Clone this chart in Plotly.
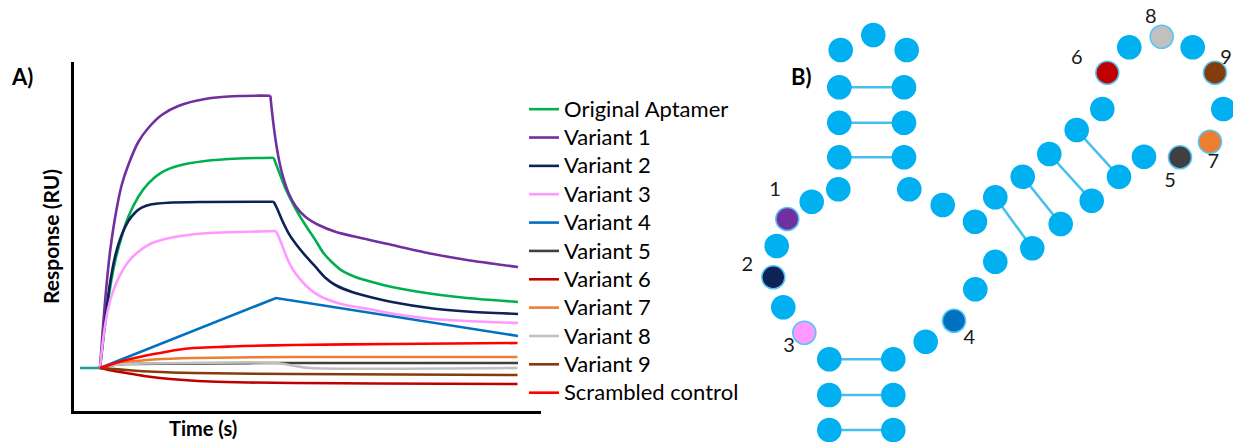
import plotly.graph_objects as go

W, H = 1233, 442

# ---------------- Panel A: SPR sensorgram data (time in s, response in RU) ----------------
SERIES_NAMES = ["Original Aptamer", "Variant 1", "Variant 2", "Variant 3", "Variant 4",
                "Variant 5", "Variant 6", "Variant 7", "Variant 8", "Variant 9",
                "Scrambled control"]
SERIES_COLORS = ["#00b050", "#7030a0", "#0d2257", "#ff99ff", "#0070c0",
                 "#404040", "#c00000", "#ed7d31", "#c0c0c0", "#843c0c", "#ff0000"]

BASELINE_T = [12, 52]
BASELINE_RU = [0, 0]

original_t = [52, 58.7, 65.3, 72, 82, 95.3, 108.7, 128.7, 148.7, 175.3, 208.7, 262, 330, 399.3,
              409.3, 422.7, 442.7, 462.7, 482.7, 499.3, 516, 536, 562.7, 596, 636, 718, 786, 888]
original_ru = [0, 29.7, 56.3, 79.7, 106.3, 131.3, 151.3, 171.3, 184.7, 195.7, 202.3, 207, 209.5, 210.3,
               197, 179.7, 159.7, 143, 128, 114.7, 105.7, 97.3, 91, 86, 81, 74, 70, 66]

v1_t = [52, 62, 72, 82, 95.4, 108.6, 128.6, 148.6, 175.4, 208.6, 262, 330, 392.7,
        396, 400, 404.7, 410.7, 418, 429.3, 442.7, 462.7, 489.3, 522.7, 576, 636, 718, 786, 888]
v1_ru = [0, 66, 116, 150, 183, 203, 226, 240, 253, 262, 269, 272, 272.3,
         256.3, 239.7, 223, 206.3, 191.3, 174.7, 162.3, 151.3, 143, 136.3, 129.7, 123, 114, 108, 101]

v2_t = [52, 58.7, 65.3, 72, 82, 95.3, 108.7, 122, 135.3, 155.3, 188.7, 262, 399.3,
        406, 416, 429.3, 442.7, 462.7, 482.7, 502.7, 522.7, 556, 596, 636, 718, 786, 888]
v2_ru = [0, 31.3, 59.7, 84.7, 111.3, 133, 147, 155.3, 160.3, 163.7, 165.3, 166, 166.3,
         159.7, 148, 134.7, 124.7, 112.3, 101.3, 90.3, 83, 76, 70.5, 66, 59.5, 56.5, 54]

v3_t = [52, 56.7, 62, 68.7, 76.7, 88.7, 108.7, 128.7, 155.3, 188.7, 262, 330, 404,
        409.3, 416, 429.3, 442.7, 462.7, 482.7, 509.3, 542.7, 589.3, 636, 718, 786, 888]
v3_ru = [0, 22.3, 42.3, 60.3, 74.7, 89.7, 106.3, 116.3, 124.7, 129.7, 134.7, 136, 137,
         131.3, 123, 106.3, 94.7, 83, 74.7, 68, 63, 59, 54.5, 49, 47, 45]

v4_t = [52, 404, 888]
v4_ru = [0, 70, 32]

v5_t = [52, 80, 105, 405, 888]
v5_ru = [0, 3, 4, 5, 5]

v6_t = [52, 80, 105, 140, 172, 220, 272, 350, 439, 600, 887]
v6_ru = [0, -3, -5, -8, -10, -12, -13.5, -14.5, -15, -15.5, -16]

v7_t = [52, 80, 105, 160, 239, 439, 887]
v7_ru = [0, 4, 6, 8.5, 10, 11, 11]

v8_t = [52, 80, 105, 405, 425, 445, 472, 887]
v8_ru = [0, 3, 4, 5, 3.5, 1.8, 0, 0]

v9_t = [52, 80, 105, 160, 239, 439, 887]
v9_ru = [0, -1, -2, -3.8, -5, -6, -7]

scr_t = [52, 80, 105, 140, 172, 205, 239, 290, 339, 439, 639, 887]
scr_ru = [0, 4.5, 8, 12, 15, 18, 20, 21, 22, 23, 24, 25]

SERIES_T = [original_t, v1_t, v2_t, v3_t, v4_t, v5_t, v6_t, v7_t, v8_t, v9_t, scr_t]
SERIES_RU = [original_ru, v1_ru, v2_ru, v3_ru, v4_ru, v5_ru, v6_ru, v7_ru, v8_ru, v9_ru, scr_ru]
# index of the end-of-injection point (sharp corner) in each series; None = no corner
INJECTION_END = [13, 12, 12, 12, 1, None, None, None, None, None, None]

# ---------------- Panel B: aptamer secondary structure (diagram coordinates) ----------------
NT_X = [829.3, 829.3, 829.3, 804.3, 783.3, 773.3, 776.7, 787.3, 811.7, 838.3,
        839.3, 839.3, 839.3, 840.7, 873.3, 906.7, 904.0, 904.0, 904.0, 909.3,
        942.7, 975.0, 995.3, 1022.7, 1049.3, 1076.7, 1102.3, 1107.3, 1129.3, 1161.7,
        1192.7, 1215.0, 1223.3, 1210.0, 1180.0, 1144.0, 1119.0, 1091.7, 1060.7, 1032.3,
        995.3, 975.3, 954.0, 925.7, 893.3, 893.3, 893.3]
NT_Y = [430.0, 395.0, 359.3, 332.7, 307.3, 277.3, 246.0, 219.0, 201.7, 189.3,
        157.3, 122.7, 87.3, 50.0, 35.0, 50.0, 87.3, 122.7, 157.3, 189.3,
        205.0, 221.7, 197.3, 176.7, 154.0, 130.0, 109.0, 72.7, 47.3, 36.7,
        47.3, 72.7, 109.0, 141.7, 157.3, 156.7, 176.7, 200.7, 224.0, 248.3,
        261.7, 289.3, 320.7, 341.7, 359.3, 395.0, 430.0]
# base pairs (index pairs into NT lists)
PAIRS = [(0, 46), (1, 45), (2, 44), (10, 18), (11, 17), (12, 16),
         (22, 39), (23, 38), (24, 37), (25, 36)]
# modified positions: label -> nucleotide index
MOD_LABELS = ["1", "2", "3", "4", "5", "6", "7", "8", "9"]
MOD_INDEX = [7, 5, 3, 42, 34, 27, 33, 29, 31]
MOD_LABEL_X = [775.0, 747.3, 789.0, 969.3, 1170.0, 1076.7, 1213.3, 1150.7, 1226.0]
MOD_LABEL_Y = [191.0, 266.0, 347.0, 339.0, 182.0, 59.0, 163.0, 18.0, 59.0]

NT_COLOR = "#00b0f0"
PAIR_COLOR = "#45c0ee"

# ---------------- layout helpers ----------------
AX_LEFT, AX_RIGHT, AX_TOP, AX_BOTTOM = 74, 541, 62, 411
FONT = "Lato"


def px(x):
    return x / W


def py(y):
    return 1 - y / H


fig = go.Figure()

fig.add_trace(go.Scatter(x=BASELINE_T, y=BASELINE_RU, mode="lines",
                         line=dict(color="#2a9a9a", width=2.6), showlegend=False,
                         hoverinfo="skip", xaxis="x", yaxis="y"))

for k, (name, color, t, ru) in enumerate(zip(SERIES_NAMES, SERIES_COLORS, SERIES_T, SERIES_RU)):
    cut = INJECTION_END[k]
    label = f'<span style="font-size:22px">{name}</span>'
    if name == "Variant 4":
        parts = [(t, ru)]
        shape = "linear"
    elif cut is None:
        parts = [(t, ru)]
        shape = "spline"
    else:
        parts = [(t[:cut + 1], ru[:cut + 1]), (t[cut:], ru[cut:])]
        shape = "spline"
    for j, (pt, pr) in enumerate(parts):
        fig.add_trace(go.Scatter(x=pt, y=pr, mode="lines", name=label,
                                 legendgroup=name, showlegend=(j == 0),
                                 line=dict(color=color, width=2.6, shape=shape,
                                           smoothing=0.8, simplify=False),
                                 xaxis="x", yaxis="y"))

# base-pair lines
for a, b in PAIRS:
    fig.add_trace(go.Scatter(x=[NT_X[a], NT_X[b]], y=[NT_Y[a], NT_Y[b]], mode="lines",
                             line=dict(color=PAIR_COLOR, width=2.6), showlegend=False,
                             hoverinfo="skip", xaxis="x2", yaxis="y2"))

mod_color_by_index = {}
for lab, idx in zip(MOD_LABELS, MOD_INDEX):
    mod_color_by_index[idx] = SERIES_COLORS[int(lab)]

fills = [mod_color_by_index.get(i, NT_COLOR) for i in range(len(NT_X))]
outlines = ["#55c6f2" if i in mod_color_by_index else NT_COLOR for i in range(len(NT_X))]
fig.add_trace(go.Scatter(x=NT_X, y=NT_Y, mode="markers",
                         marker=dict(size=23, color=fills, line=dict(color=outlines, width=1.6)),
                         showlegend=False, hoverinfo="skip", xaxis="x2", yaxis="y2"))

fig.add_trace(go.Scatter(x=MOD_LABEL_X, y=MOD_LABEL_Y, mode="text", text=MOD_LABELS,
                         textfont=dict(family=FONT, size=20, color="#1a1a1a"),
                         showlegend=False, hoverinfo="skip", xaxis="x2", yaxis="y2"))


def label_annot(text, x, y, size, angle=0):
    return dict(text=text, x=px(x), y=py(y), xref="paper", yref="paper",
                xanchor="center", yanchor="middle", textangle=angle, showarrow=False,
                font=dict(family=FONT, size=size, color="black"))


fig.update_layout(
    width=W, height=H, autosize=False,
    margin=dict(l=0, r=0, t=0, b=0, pad=0),
    paper_bgcolor="white", plot_bgcolor="rgba(0,0,0,0)",
    font=dict(family=FONT, color="black"),
    xaxis=dict(domain=[px(AX_LEFT), px(AX_RIGHT)], range=[0, (AX_RIGHT - AX_LEFT) * 2],
               showgrid=False, zeroline=False, showticklabels=False, ticks="",
               showline=True, linecolor="black", linewidth=2.6, fixedrange=True),
    yaxis=dict(domain=[py(AX_BOTTOM), py(AX_TOP)], range=[368 - AX_BOTTOM, 368 - AX_TOP],
               showgrid=False, zeroline=False, showticklabels=False, ticks="",
               showline=True, linecolor="black", linewidth=2.6, fixedrange=True),
    xaxis2=dict(domain=[0, 1], range=[0, W], visible=False, fixedrange=True),
    yaxis2=dict(domain=[0, 1], range=[H, 0], visible=False, fixedrange=True),
    legend=dict(x=px(524), y=py(90), xanchor="left", yanchor="top",
                font=dict(family=FONT, size=19.5, color="black"),
                itemwidth=30, bgcolor="rgba(0,0,0,0)", borderwidth=0,
                tracegroupgap=0),
    annotations=[
        label_annot("<b>A)</b>", 22, 76, 22),
        label_annot("<b>B)</b>", 801, 76, 22),
        label_annot("<b>Response (RU)</b>", 50, 236, 21, angle=-90),
        label_annot("<b>Time (s)</b>", 203, 428, 20),
    ],
)

fig.write_html("out.html", config={"displayModeBar": False, "staticPlot": True},
               post_script="document.body.style.margin='0';document.body.style.overflow='hidden';")
